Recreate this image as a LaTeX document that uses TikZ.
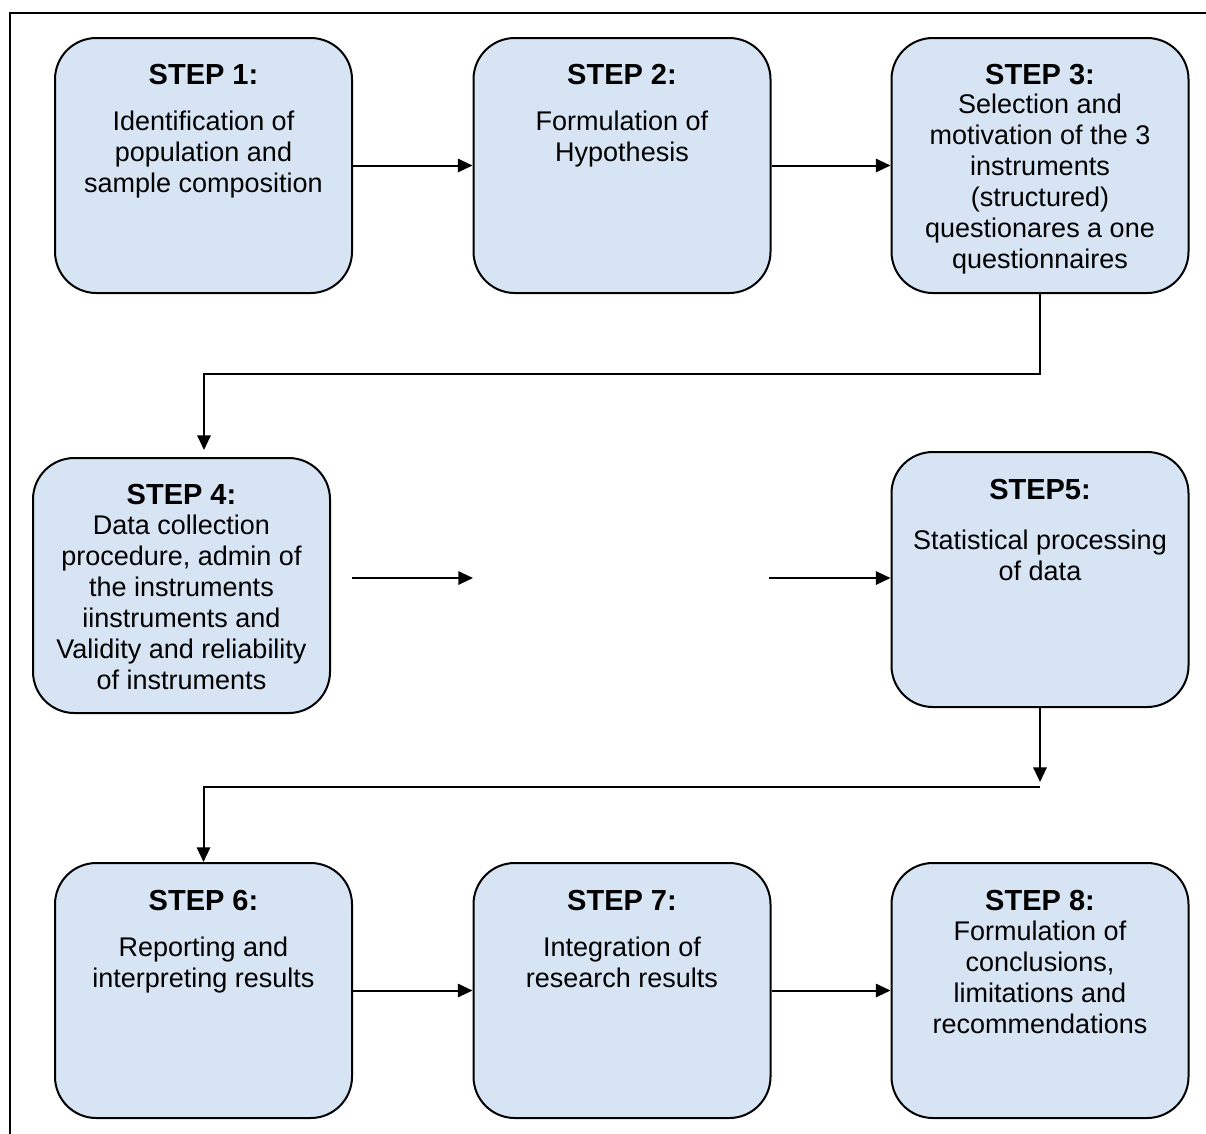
\documentclass[tikz,border=0pt]{standalone}
\usepackage{fontspec}
\setmainfont{Liberation Sans}
\usetikzlibrary{arrows.meta}

\definecolor{boxfill}{RGB}{214,228,244}

\begin{document}
\begin{tikzpicture}[x=0.75pt,y=-0.75pt,
  stepbox/.style={draw=black, line width=1.5pt, fill=boxfill, rounded corners=31pt,
    minimum width=222.75pt, minimum height=191.25pt, inner sep=0pt},
  steptitle/.style={font=\fontsize{21.75}{23.25}\selectfont\bfseries, inner sep=0pt, anchor=base},
  stepbody/.style={font=\fontsize{20.25}{23.25}\selectfont, inner sep=0pt, anchor=base},
  conn/.style={line width=1.5pt},
  arrow/.style={conn, -{Triangle[length=11pt,width=10pt]}}]

\useasboundingbox (0,0) rectangle (1206,1133);

% outer frame (runs off the page to the right and below)
\draw[line width=1.5pt] (10,1160) -- (10,13) -- (1220,13);

% step boxes
\node[stepbox] (b1) at (203.5,165.5) {};
\node[stepbox] (b2) at (622,165.5) {};
\node[stepbox] (b3) at (1040,165.5) {};
\node[stepbox] (b4) at (181.5,585.5) {};
\node[stepbox] (b5) at (1040,579.5) {};
\node[stepbox] (b6) at (203.5,990.5) {};
\node[stepbox] (b7) at (622,990.5) {};
\node[stepbox] (b8) at (1040,990.5) {};

% titles
\node[steptitle] (t1) at (203.5,84) {STEP 1:};
\node[steptitle] (t2) at (622,84) {STEP 2:};
\node[steptitle] (t3) at (1040,84) {STEP 3:};
\node[steptitle] (t4) at (181.5,504) {STEP 4:};
\node[steptitle] (t5) at (1040,499) {STEP5:};
\node[steptitle] (t6) at (203.5,910) {STEP 6:};
\node[steptitle] (t7) at (622,910) {STEP 7:};
\node[steptitle] (t8) at (1040,910) {STEP 8:};

% body texts
\node[stepbody] (d1) at (203.5,130) {\begin{tabular}[t]{@{}c@{}}Identification of\\population and\\sample composition\end{tabular}};
\node[stepbody] (d2) at (622,130) {\begin{tabular}[t]{@{}c@{}}Formulation of\\Hypothesis\end{tabular}};
\node[stepbody] (d3) at (1040,113) {\begin{tabular}[t]{@{}c@{}}Selection and\\motivation of the 3\\instruments\\(structured)\\questionares a one\\questionnaires\end{tabular}};
\node[stepbody] (d4) at (181.5,534) {\begin{tabular}[t]{@{}c@{}}Data collection\\procedure, admin of\\the instruments\\iinstruments and\\Validity and reliability\\of instruments\end{tabular}};
\node[stepbody] (d5) at (1040,549) {\begin{tabular}[t]{@{}c@{}}Statistical processing\\of data\end{tabular}};
\node[stepbody] (d6) at (203.5,956) {\begin{tabular}[t]{@{}c@{}}Reporting and\\interpreting results\end{tabular}};
\node[stepbody] (d7) at (622,956) {\begin{tabular}[t]{@{}c@{}}Integration of\\research results\end{tabular}};
\node[stepbody] (d8) at (1040,940) {\begin{tabular}[t]{@{}c@{}}Formulation of\\conclusions,\\limitations and\\recommendations\end{tabular}};

% connector points
\coordinate (c34) at (204,374);
\coordinate (e4) at (204,450);
\coordinate (s4) at (352,578);
\coordinate (m4) at (473,578);
\coordinate (s5) at (769,578);
\coordinate (e5) at (1040,782);
\coordinate (c56) at (1040,787);

% connectors
\draw[arrow] (b1.east) -- (b2.west);
\draw[arrow] (b2.east) -- (b3.west);
\draw[arrow] (b3.south) |- (c34) -- (e4);
\draw[arrow] (s4) -- (m4);
\draw[arrow] (s5) -- (s5 -| b5.west);
\draw[arrow] (b5.south) -- (e5);
\draw[arrow] (c56) -| (b6.north);
\draw[arrow] (b6.east) -- (b7.west);
\draw[arrow] (b7.east) -- (b8.west);

\end{tikzpicture}
\end{document}
